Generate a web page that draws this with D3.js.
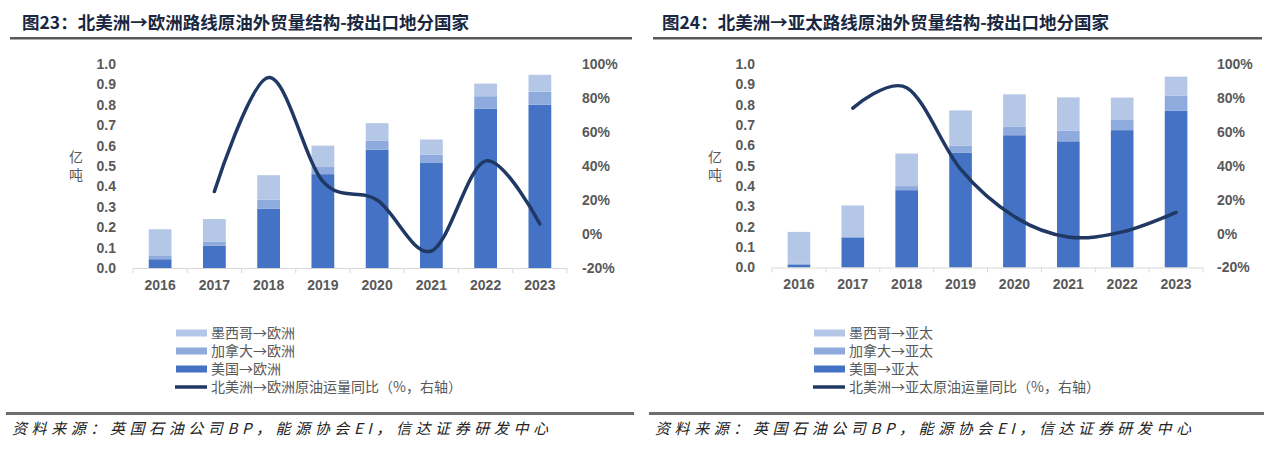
<!DOCTYPE html>
<html>
<head>
<meta charset="utf-8">
<script src="https://cdn.jsdelivr.net/npm/d3@7/dist/d3.min.js"></script>
<style>
  body { margin: 0; background: #fff; }
  svg { display: block; }
  .tick text { font-family: "Liberation Sans", Arial, sans-serif; font-weight: bold; font-size: 14px; fill: #595959; }
</style>
</head>
<body>
<svg id="chart" width="1269" height="450"></svg>
<script>
// categories
const years = ['2016', '2017', '2018', '2019', '2020', '2021', '2022', '2023'];

// 北美洲→欧洲 (亿吨)
const euUS = [0.043, 0.11, 0.29, 0.46, 0.58, 0.515, 0.78, 0.80];
const euCA = [0.016, 0.02, 0.045, 0.035, 0.045, 0.04, 0.062, 0.064];
const euMX = [0.131, 0.11, 0.12, 0.105, 0.085, 0.075, 0.062, 0.083];
const euYoY = [null, 25, 92, 31, 20, -10, 43, 6];

// 北美洲→亚太 (亿吨)
const apUS = [0.015, 0.145, 0.38, 0.565, 0.65, 0.62, 0.675, 0.77];
const apCA = [0.005, 0.008, 0.02, 0.033, 0.043, 0.053, 0.05, 0.075];
const apMX = [0.155, 0.152, 0.16, 0.174, 0.158, 0.163, 0.11, 0.093];
const apYoY = [null, 74, 86, 38, 10, -2, 1, 12.5];

const leftTicks = [0, 0.1, 0.2, 0.3, 0.4, 0.5, 0.6, 0.7, 0.8, 0.9, 1.0];
const rightTicks = [-20, 0, 20, 40, 60, 80, 100];

const colUS = '#4472C4', colCA = '#8FAADC', colMX = '#B4C7E7', colLine = '#1F3864';

var svg = d3.select('#chart');

function drawPanel(opt) {
    var g = svg.append('g');

    // title + rule
    g.append('text')
        .attr('x', opt.titleX).attr('y', 29)
        .attr('font-family', '"Noto Sans CJK SC", sans-serif')
        .attr('font-weight', 'bold').attr('font-size', 17.5)
        .attr('fill', '#1a2740')
        .text(opt.title);
    g.append('rect').attr('x', opt.ruleX0).attr('y', 37)
        .attr('width', opt.ruleX1 - opt.ruleX0).attr('height', 2.5).attr('fill', '#595959');

    var x = d3.scaleBand().domain(years).range([opt.x0, opt.x1])
        .paddingInner(0.58).paddingOuter(0.29);
    var y = d3.scaleLinear().domain([0, 1]).range([opt.yBase, 64]);
    var y2 = d3.scaleLinear().domain([-20, 100]).range([opt.yBase, 64]);

    // stacked bars
    var rows = years.map(function (yr, i) {
        return { year: yr, us: opt.us[i], ca: opt.ca[i], mx: opt.mx[i] };
    });
    var stack = d3.stack().keys(['us', 'ca', 'mx'])(rows);
    var colors = { us: colUS, ca: colCA, mx: colMX };

    g.selectAll('g.layer')
        .data(stack)
        .enter().append('g')
        .attr('fill', d => colors[d.key])
        .selectAll('rect')
        .data(d => d)
        .enter().append('rect')
        .attr('x', d => x(d.data.year))
        .attr('width', x.bandwidth())
        .attr('y', d => y(d[1]))
        .attr('height', d => y(d[0]) - y(d[1]));

    // x axis line with ticks between categories
    g.append('line')
        .attr('x1', opt.x0).attr('x2', opt.x1)
        .attr('y1', opt.yBase + 0.5).attr('y2', opt.yBase + 0.5)
        .attr('stroke', '#D9D9D9').attr('stroke-width', 1);
    var bounds = years.map(d => x(d) - x.step() * 0.29).concat([opt.x1]);
    g.selectAll('line.xt')
        .data(bounds)
        .enter().append('line')
        .attr('x1', d => d).attr('x2', d => d)
        .attr('y1', opt.yBase).attr('y2', opt.yBase + 5)
        .attr('stroke', '#D9D9D9');

    var xAxis = d3.axisBottom(x).tickSize(0).tickPadding(12);
    var ax = g.append('g').attr('transform', `translate(0, ${opt.yBase})`).call(xAxis);
    ax.select('.domain').remove();

    var yAxis = d3.axisLeft(y).tickValues(leftTicks).tickFormat(d3.format('.1f')).tickSize(0).tickPadding(17);
    var ay = g.append('g').attr('transform', `translate(${opt.x0}, 0)`).call(yAxis);
    ay.select('.domain').remove();

    var yAxis2 = d3.axisRight(y2).tickValues(rightTicks).tickFormat(d => d + '%').tickSize(0).tickPadding(opt.rightPad);
    var ay2 = g.append('g').attr('transform', `translate(${opt.x1}, 0)`).call(yAxis2);
    ay2.select('.domain').remove();

    // 亿吨 unit label, stacked vertically
    ['亿', '吨'].forEach(function (ch, i) {
        g.append('text')
            .attr('x', opt.x0 - 57).attr('y', 157 + i * 18)
            .attr('dy', '0.35em')
            .attr('text-anchor', 'middle')
            .attr('font-family', '"Noto Sans CJK SC", sans-serif')
            .attr('font-size', 14).attr('fill', '#595959')
            .text(ch);
    });

    // yoy line (right axis)
    var line = d3.line()
        .defined(d => d.v != null)
        .x(d => x(d.year) + x.bandwidth() / 2)
        .y(d => y2(d.v))
        .curve(d3.curveCatmullRom.alpha(0));
    g.append('path')
        .attr('d', line(years.map((yr, i) => ({ year: yr, v: opt.yoy[i] }))))
        .attr('fill', 'none')
        .attr('stroke', colLine)
        .attr('stroke-width', 3.5)
        .attr('stroke-linecap', 'round');

    // legend
    var items = [
        { label: opt.legend[0], color: colMX, type: 'bar' },
        { label: opt.legend[1], color: colCA, type: 'bar' },
        { label: opt.legend[2], color: colUS, type: 'bar' },
        { label: opt.legend[3], color: colLine, type: 'line' }
    ];
    var lg = g.append('g').attr('transform', `translate(${opt.legendX}, 333)`);
    items.forEach(function (it, i) {
        if (it.type == 'bar') {
            lg.append('rect').attr('x', 0).attr('y', i * 18 - 3.5)
                .attr('width', 31).attr('height', 7).attr('fill', it.color);
        } else {
            lg.append('line').attr('x1', -1).attr('x2', 31)
                .attr('y1', i * 18).attr('y2', i * 18)
                .attr('stroke', it.color).attr('stroke-width', 3.5);
        }
        lg.append('text').attr('x', 35).attr('y', i * 18)
            .attr('dy', '0.35em')
            .attr('font-family', '"Noto Sans CJK SC", sans-serif')
            .attr('font-size', 14).attr('fill', '#595959')
            .text(it.label);
    });

    // source rule + note
    g.append('rect').attr('x', opt.ruleX0 - 4).attr('y', 412)
        .attr('width', opt.ruleX1 - opt.ruleX0 + 6).attr('height', 3).attr('fill', '#6d6d6d');
    g.append('text')
        .attr('x', opt.ruleX0 + 2).attr('y', 434)
        .attr('font-family', '"Noto Sans CJK SC", sans-serif')
        .attr('font-style', 'italic').attr('font-size', 15)
        .attr('fill', '#222')
        .attr('textLength', 536).attr('lengthAdjust', 'spacing')
        .text('资料来源：英国石油公司BP，能源协会EI，信达证券研发中心');
}

drawPanel({
    title: '图23：北美洲→欧洲路线原油外贸量结构-按出口地分国家',
    titleX: 22, ruleX0: 10, ruleX1: 632,
    x0: 133, x1: 567, yBase: 268, rightPad: 15,
    us: euUS, ca: euCA, mx: euMX, yoy: euYoY,
    legendX: 176,
    legend: ['墨西哥→欧洲', '加拿大→欧洲', '美国→欧洲', '北美洲→欧洲原油运量同比（%，右轴）']
});

drawPanel({
    title: '图24：北美洲→亚太路线原油外贸量结构-按出口地分国家',
    titleX: 662, ruleX0: 653, ruleX1: 1262,
    x0: 772, x1: 1203, yBase: 267.5, rightPad: 14,
    us: apUS, ca: apCA, mx: apMX, yoy: apYoY,
    legendX: 814,
    legend: ['墨西哥→亚太', '加拿大→亚太', '美国→亚太', '北美洲→亚太原油运量同比（%，右轴）']
});
</script>
</body>
</html>
